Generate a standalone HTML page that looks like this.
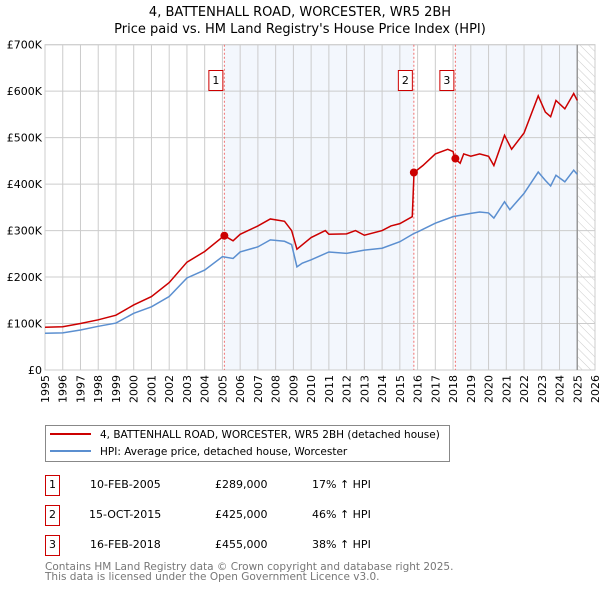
<!DOCTYPE html>
<html><head><meta charset="utf-8"><style>
body{margin:0;background:#fff;font-family:"DejaVu Sans","Liberation Sans",sans-serif;}
svg text{font-family:"DejaVu Sans","Liberation Sans",sans-serif;}
</style></head><body>
<svg id="c" width="600" height="590" viewBox="0 0 600 590" xmlns="http://www.w3.org/2000/svg">
<defs><pattern id="hatch" width="6" height="6" patternUnits="userSpaceOnUse" patternTransform="rotate(-45)"><line x1="0" y1="0" x2="0" y2="6" stroke="#ccc" stroke-width="1"/></pattern></defs>
<text x="300" y="16" text-anchor="middle" font-size="13" fill="#000">4, BATTENHALL ROAD, WORCESTER, WR5 2BH</text>
<text x="300" y="33" text-anchor="middle" font-size="13" fill="#000">Price paid vs. HM Land Registry's House Price Index (HPI)</text>
<g id="plot"></g>
<g>
<rect x="45.5" y="425.5" width="404" height="36" fill="#fff" stroke="#888"/>
<line x1="50" y1="434" x2="91" y2="434" stroke="#cc0000" stroke-width="2"/>
<text x="100" y="438" font-size="10.5">4, BATTENHALL ROAD, WORCESTER, WR5 2BH (detached house)</text>
<line x1="50" y1="451" x2="91" y2="451" stroke="#5b8fd0" stroke-width="2"/>
<text x="100" y="455" font-size="10.5">HPI: Average price, detached house, Worcester</text>
</g>
<g font-size="11">
<rect x="45.5" y="475.5" width="14" height="20" fill="#fff" stroke="#cc0000"/><text x="52.5" y="488" text-anchor="middle">1</text>
<text x="90" y="488">10-FEB-2005</text><text x="215" y="488">£289,000</text><text x="312" y="488">17% ↑ HPI</text>
<rect x="45.5" y="505.5" width="14" height="20" fill="#fff" stroke="#cc0000"/><text x="52.5" y="518" text-anchor="middle">2</text>
<text x="89" y="518">15-OCT-2015</text><text x="215" y="518">£425,000</text><text x="312" y="518">46% ↑ HPI</text>
<rect x="45.5" y="535.5" width="14" height="20" fill="#fff" stroke="#cc0000"/><text x="52.5" y="548" text-anchor="middle">3</text>
<text x="90" y="548">16-FEB-2018</text><text x="215" y="548">£455,000</text><text x="312" y="548">38% ↑ HPI</text>
</g>
<text x="45" y="570" font-size="10.5" fill="#777">Contains HM Land Registry data © Crown copyright and database right 2025.</text>
<text x="45" y="580" font-size="10.5" fill="#777">This data is licensed under the Open Government Licence v3.0.</text>
</svg>
<script>
const hpiYears=[1995,1996,1997,1998,1999,2000,2001,2002,2003,2004,2005,2005.6,2006,2007,2007.7,2008.5,2008.9,2009.2,2009.5,2010,2011,2012,2013,2014,2015,2015.8,2016,2017,2018,2019,2019.5,2020,2020.3,2020.9,2021.2,2022,2022.8,2023.2,2023.5,2023.8,2024.3,2024.8,2025];
const hpiValues=[79,80,86,94,101,122,136,158,198,215,244,240,254,265,280,277,270,222,230,237,254,251,258,262,276,294,297,316,330,337,340,338,327,362,345,380,426,408,396,419,405,430,421];
const priceYears=[1995,1996,1997,1998,1999,2000,2001,2002,2003,2004,2005.1,2005.6,2006,2007,2007.7,2008.5,2008.9,2009.2,2010,2010.8,2011,2012,2012.5,2013,2014,2014.5,2015,2015.7,2015.8,2016.3,2017,2017.7,2018,2018.1,2018.4,2018.6,2019,2019.5,2020,2020.3,2020.9,2021.3,2022,2022.8,2023.2,2023.5,2023.8,2024.3,2024.8,2025];
const priceValues=[92,93,100,108,118,140,158,188,232,255,289,278,292,310,325,320,300,260,285,300,292,293,300,290,300,310,315,330,425,440,465,475,470,455,445,465,460,465,460,440,505,475,510,590,555,545,580,562,595,580];
const saleYears=[2005.11,2015.79,2018.13];
const saleValues=[289,425,455];
const saleLabels=["1","2","3"];
const yTicks=[0,100,200,300,400,500,600,700];
const yTickLabels=["£0","£100K","£200K","£300K","£400K","£500K","£600K","£700K"];
const xTicks=[1995,1996,1997,1998,1999,2000,2001,2002,2003,2004,2005,2006,2007,2008,2009,2010,2011,2012,2013,2014,2015,2016,2017,2018,2019,2020,2021,2022,2023,2024,2025,2026];

const X0=45,X1=595,Y0=370,Y1=44.7;
const xs=y=>X0+(y-1995)/(2026-1995)*(X1-X0);
const ys=v=>Y0-v/700*(Y0-Y1);
const NS="http://www.w3.org/2000/svg";
const g=document.getElementById('plot');
function mk(t,a){const e=document.createElementNS(NS,t);for(const k in a)e.setAttribute(k,a[k]);g.appendChild(e);return e;}
let e;
e=mk('rect',{x:xs(saleYears[0]),y:Y1,width:xs(saleYears[1])-xs(saleYears[0]),height:Y0-Y1,fill:'#eef3fc',opacity:0.7});


e=mk('rect',{x:xs(saleYears[2]),y:Y1,width:xs(2025)-xs(saleYears[2]),height:Y0-Y1,fill:'#eef3fc',opacity:0.7});


e=mk('rect',{x:xs(2025),y:Y1,width:X1-xs(2025),height:Y0-Y1,fill:'url(#hatch)'});


xTicks.forEach((t,i)=>{
 e=mk('line',{x1:xs(t),x2:xs(t),y1:Y1,y2:Y0,stroke:'#ccc','stroke-width':1});
 
 
 e=mk('text',{x:0,y:0,'font-size':11,'text-anchor':'end',transform:`translate(${xs(t)+4},${Y0+5}) rotate(-90)`});
 e.textContent=t;
 
 
});
yTicks.forEach((t,i)=>{
 e=mk('line',{x1:X0,x2:X1,y1:ys(t),y2:ys(t),stroke:'#ccc','stroke-width':1});
 
 
 e=mk('text',{x:X0-3,y:ys(t)+4,'font-size':11,'text-anchor':'end'});
 e.textContent=yTickLabels[i];
 
 
});
e=mk('rect',{x:X0,y:Y1,width:X1-X0,height:Y0-Y1,fill:'none',stroke:'#ccc'});


e=mk('line',{x1:xs(2025),x2:xs(2025),y1:Y1,y2:Y0,stroke:'#999','stroke-width':1.5});


saleYears.forEach((s,i)=>{
 e=mk('line',{x1:xs(s),x2:xs(s),y1:Y1,y2:Y0,stroke:'#f07070','stroke-dasharray':'2,2','stroke-width':1});
 
 
});
e=mk('polyline',{points:hpiYears.map((y,i)=>xs(y)+','+ys(hpiValues[i])).join(' '),fill:'none',stroke:'#5b8fd0','stroke-width':1.5});


e=mk('polyline',{points:priceYears.map((y,i)=>xs(y)+','+ys(priceValues[i])).join(' '),fill:'none',stroke:'#cc0000','stroke-width':1.5});


saleYears.forEach((s,i)=>{
 e=mk('circle',{cx:xs(s),cy:ys(saleValues[i]),r:4,fill:'#cc0000'});
 
 
 e=mk('rect',{x:xs(s)-15.5,y:70.5,width:14,height:20,fill:'#fff',stroke:'#cc0000'});
 
 
 e=mk('text',{x:xs(s)-8.5,y:84,'font-size':11,'text-anchor':'middle'});
 e.textContent=saleLabels[i];
 
 
});
</script>
</body></html>
